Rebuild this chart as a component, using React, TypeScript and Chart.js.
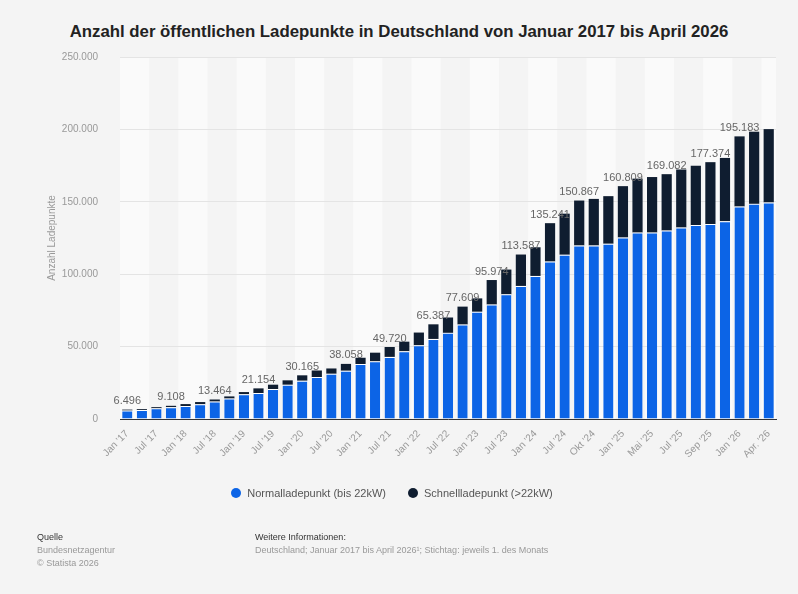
import { useEffect, useRef } from "react";
import { Chart, registerables } from "chart.js";

Chart.register(...registerables);

const CATEGORIES: string[] = [
  "Jan '17", "Apr '17", "Jul '17", "Okt '17",
  "Jan '18", "Apr '18", "Jul '18", "Okt '18",
  "Jan '19", "Apr '19", "Jul '19", "Okt '19",
  "Jan '20", "Apr '20", "Jul '20", "Okt '20",
  "Jan '21", "Apr '21", "Jul '21", "Okt '21",
  "Jan '22", "Apr '22", "Jul '22", "Okt '22",
  "Jan '23", "Apr '23", "Jul '23", "Okt '23",
  "Jan '24", "Apr '24", "Jul '24", "Sep '24", "Okt '24", "Dez '24",
  "Jan '25", "Mär '25", "Mai '25", "Jun '25", "Jul '25", "Aug '25", "Sep '25", "Dez '25",
  "Jan '26", "Mär '26", "Apr. '26",
];

const NORMAL: number[] = [
  5900, 6300, 7400, 8200,
  8900, 10200, 12100, 14200,
  17100, 17900, 20700, 23700,
  26500, 29000, 31300, 33400,
  38000, 39800, 42900, 46800,
  50900, 55300, 59500, 65300,
  74100, 79100, 86100, 91900,
  98800, 108800, 113500, 119900, 119900, 121100,
  125400, 128800, 128800, 130200, 132300, 133900, 134600, 136600,
  146800, 148600, 149600,
];

const FAST: number[] = [
  596, 600, 800, 908,
  1400, 1500, 1364, 1400,
  1500, 3254, 3000, 3000,
  3665, 4500, 3600, 4658,
  4300, 6000, 6820, 6600,
  8800, 10087, 10600, 12309,
  9200, 16874, 17100, 21687,
  19800, 26441, 28300, 30967, 32100, 32800,
  35409, 37200, 38300, 38882, 40000, 41000, 42774, 43700,
  48383, 49800, 50600,
];

const LABEL_INDICES: number[] = [0, 3, 6, 9, 12, 15, 18, 21, 23, 25, 27, 29, 31, 34, 37, 40, 42];

const Y_TICKS: number[] = [0, 50000, 100000, 150000, 200000, 250000];

const BLUE = "#0c64e6";
const DARK = "#0f1d30";
const BG = "#f4f4f4";
const FONT = '"Liberation Sans", Arial, sans-serif';

function fmt(v: number): string {
  const s = Math.round(v).toString();
  return s.replace(/\B(?=(\d{3})+(?!\d))/g, ".");
}

const bandsPlugin = {
  id: "bands",
  beforeDraw(chart: any) {
    const { ctx, chartArea, scales } = chart;
    const xs = scales.x;
    const n = CATEGORIES.length;
    const step = xs.getPixelForValue(1) - xs.getPixelForValue(0);
    ctx.save();
    for (let g = 0; g * 2 < n; g++) {
      if (g % 2 === 1) continue;
      const x0 = xs.getPixelForValue(g * 2) - step / 2;
      const x1 = Math.min(x0 + step * 2, chartArea.right);
      ctx.fillStyle = "#fafafa";
      ctx.fillRect(x0, chartArea.top, x1 - x0, chartArea.bottom - chartArea.top);
    }
    ctx.restore();
  },
};

const totalsPlugin = {
  id: "totals",
  afterDatasetsDraw(chart: any) {
    const { ctx, scales } = chart;
    ctx.save();
    ctx.font = `11px ${FONT}`;
    ctx.fillStyle = "#666";
    ctx.textAlign = "center";
    ctx.textBaseline = "bottom";
    LABEL_INDICES.forEach((i) => {
      const total = NORMAL[i] + FAST[i];
      const x = scales.x.getPixelForValue(i);
      const y = scales.y.getPixelForValue(total) - 3;
      ctx.fillText(fmt(total), x, y);
    });
    ctx.restore();
  },
};

export default function App() {
  const ref = useRef<HTMLCanvasElement>(null);

  useEffect(() => {
    document.body.style.margin = "0";
    const chart = new Chart(ref.current as HTMLCanvasElement, {
      type: "bar",
      data: {
        labels: CATEGORIES,
        datasets: [
          {
            label: "Normalladepunkt (bis 22kW)",
            data: NORMAL,
            backgroundColor: BLUE,
            borderColor: "#ffffff",
            borderWidth: { top: 1, left: 0, right: 0, bottom: 0 },
            borderSkipped: false,
            barPercentage: 0.7,
            categoryPercentage: 1,
          },
          {
            label: "Schnellladepunkt (>22kW)",
            data: FAST,
            backgroundColor: DARK,
            borderWidth: 0,
            barPercentage: 0.7,
            categoryPercentage: 1,
          },
        ],
      },
      options: {
        responsive: false,
        animation: false,
        layout: { padding: { left: 43, right: 22, top: 57, bottom: 115 } },
        plugins: {
          legend: { display: false },
          title: { display: false },
          tooltip: { enabled: false },
        },
        scales: {
          x: {
            stacked: true,
            grid: { display: false, drawTicks: false },
            border: { display: true, color: "#333", width: 1 },
            ticks: {
              autoSkip: false,
              maxRotation: 45,
              minRotation: 45,
              color: "#999",
              padding: 9,
              font: { size: 10, family: FONT },
              callback: (_v: any, i: number) => (i % 2 === 0 ? CATEGORIES[i] : ""),
            },
            afterFit: (s: any) => {
              s.height = 60;
            },
          },
          y: {
            stacked: true,
            min: 0,
            max: 250000,
            afterBuildTicks: (s: any) => {
              s.ticks = Y_TICKS.map((v) => ({ value: v }));
            },
            ticks: {
              color: "#999",
              padding: 22,
              font: { size: 10, family: FONT },
              callback: (v: any) => fmt(Number(v)),
            },
            grid: { color: "#e4e4e4", drawTicks: false },
            border: { display: false },
            title: {
              display: true,
              text: "Anzahl Ladepunkte",
              color: "#999",
              font: { size: 10, family: FONT },
              padding: { top: 3, bottom: 0 },
            },
            afterFit: (s: any) => {
              s.width = 77;
            },
          },
        },
      },
      plugins: [bandsPlugin, totalsPlugin],
    } as any);
    return () => chart.destroy();
  }, []);

  return (
    <div
      style={{
        position: "relative",
        width: 798,
        height: 594,
        background: BG,
        fontFamily: FONT,
        overflow: "hidden",
      }}
    >
      <div
        style={{
          position: "absolute",
          top: 22,
          left: 0,
          width: 798,
          textAlign: "center",
          fontWeight: "bold",
          fontSize: 16.8,
          color: "#222",
          lineHeight: "20px",
          whiteSpace: "nowrap",
        }}
      >
        Anzahl der öffentlichen Ladepunkte in Deutschland von Januar 2017 bis April 2026
      </div>
      <canvas
        ref={ref}
        width={798}
        height={594}
        style={{ position: "absolute", left: 0, top: 0 }}
      />
      <div
        style={{
          position: "absolute",
          top: 485,
          left: 0,
          width: 784,
          display: "flex",
          justifyContent: "center",
          alignItems: "center",
          fontSize: 11,
          color: "#555",
          lineHeight: "16px",
        }}
      >
        <span style={{ display: "inline-block", width: 10, height: 10, borderRadius: 5, background: BLUE, marginRight: 6 }} />
        <span style={{ marginRight: 22 }}>Normalladepunkt (bis 22kW)</span>
        <span style={{ display: "inline-block", width: 10, height: 10, borderRadius: 5, background: DARK, marginRight: 6 }} />
        <span>Schnellladepunkt (&gt;22kW)</span>
      </div>
      <div style={{ position: "absolute", left: 37, top: 531, fontSize: 9, lineHeight: "13px" }}>
        <div style={{ color: "#333" }}>Quelle</div>
        <div style={{ color: "#999" }}>Bundesnetzagentur</div>
        <div style={{ color: "#999" }}>© Statista 2026</div>
      </div>
      <div style={{ position: "absolute", left: 255, top: 531, fontSize: 9, lineHeight: "13px" }}>
        <div style={{ color: "#333" }}>Weitere Informationen:</div>
        <div style={{ color: "#999" }}>Deutschland; Januar 2017 bis April 2026¹; Stichtag: jeweils 1. des Monats</div>
      </div>
    </div>
  );
}
